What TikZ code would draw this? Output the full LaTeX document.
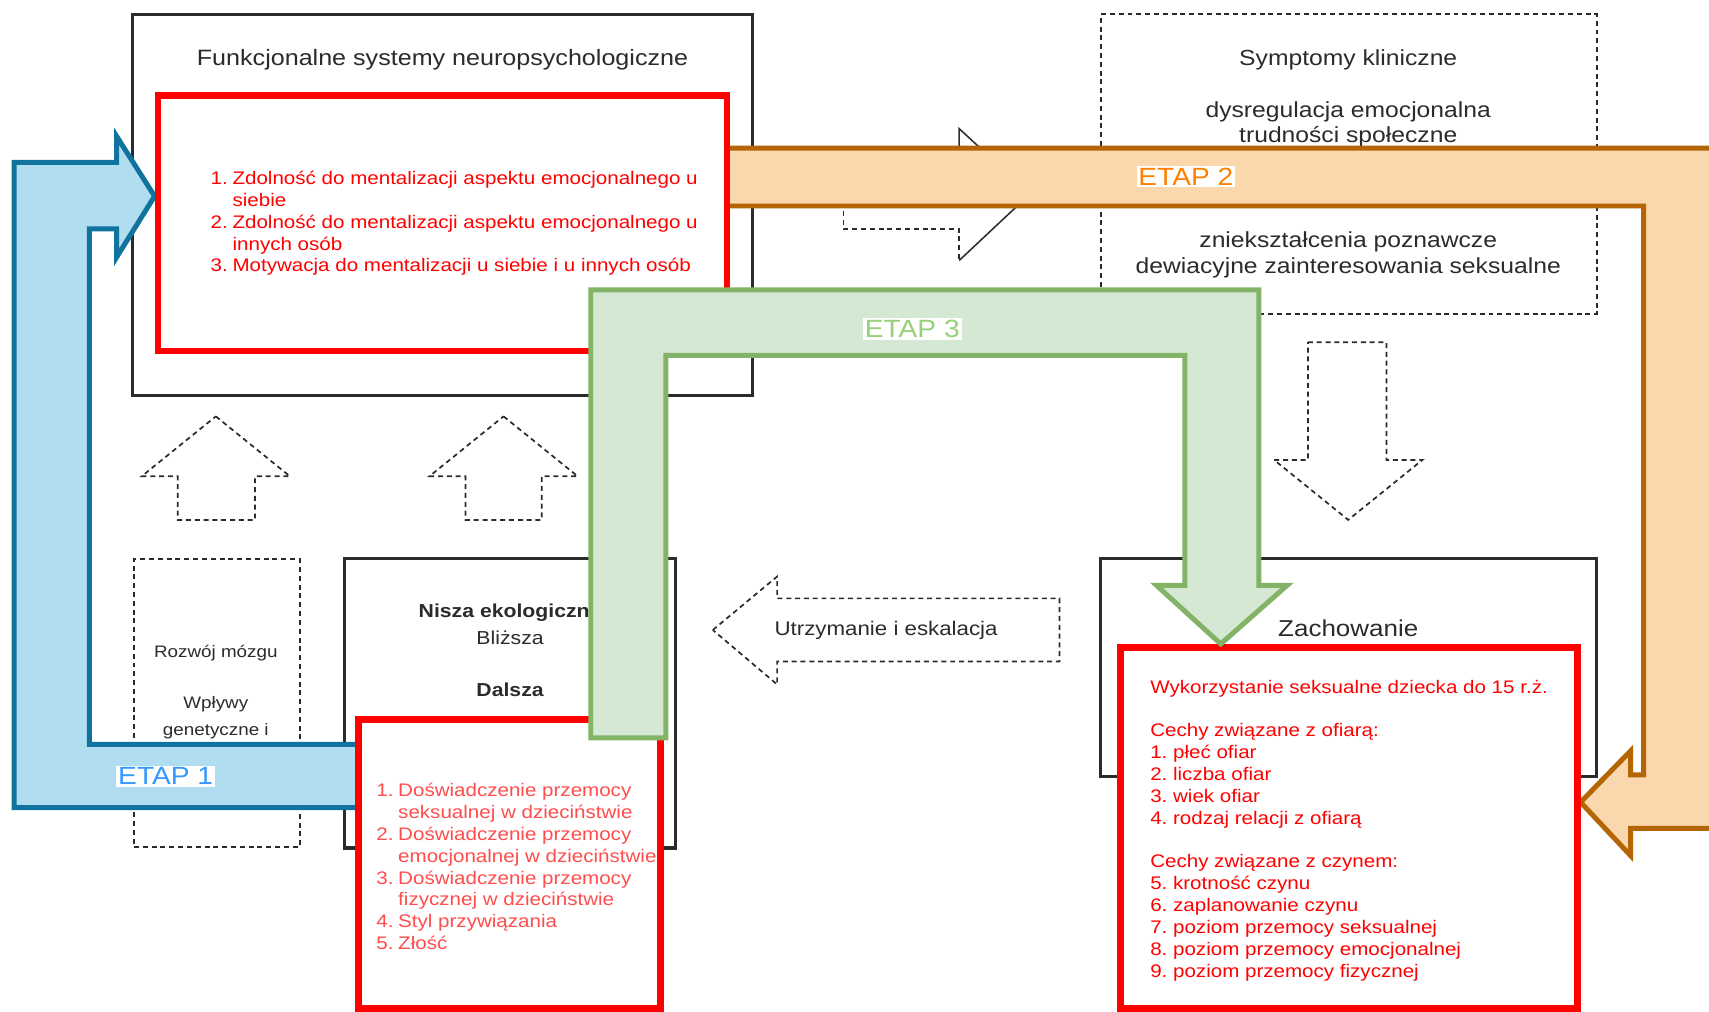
\documentclass[tikz,border=0pt]{standalone}
\usepackage{fontspec}
\setmainfont{Liberation Sans}[FakeStretch=1.13]
\usetikzlibrary{calc,positioning}
\definecolor{inkgray}{HTML}{2B2B2B}
\definecolor{listred}{HTML}{FF0000}
\definecolor{softred}{HTML}{FF4D4D}
\definecolor{bandblue}{HTML}{B1DDF0}
\definecolor{bandbluedraw}{HTML}{10739E}
\definecolor{bandorange}{HTML}{FAD7AC}
\definecolor{bandorangedraw}{HTML}{B46504}
\definecolor{bandgreen}{HTML}{D5E8D4}
\definecolor{bandgreendraw}{HTML}{82B366}
\definecolor{etapblue}{HTML}{3399FF}
\definecolor{etaporange}{HTML}{FF8000}
\definecolor{etapgreen}{HTML}{97D077}
\pgfdeclarelayer{boxes}
\pgfdeclarelayer{bands}
\pgfdeclarelayer{front}
\pgfsetlayers{boxes,bands,main,front}
\frenchspacing
\newcommand{\itemno}[1]{\makebox[11.4pt][l]{#1}}
\newcommand{\itemcont}{\hspace*{11.4pt}}
\tikzset{framebox/.style={
            draw=inkgray,
            line width=1.6pt,
            fill=white,
            inner sep=0pt
        },
        dashbox/.style={
            draw=inkgray,
            line width=0.9pt,
            dash pattern=on 2.6pt off 2pt,
            inner sep=0pt
        },
        redbox/.style={
            draw=listred,
            line width=3.6pt,
            fill=white,
            inner sep=0pt
        },
        dasharrow/.style={
            draw=inkgray,
            line width=0.9pt,
            dash pattern=on 2.6pt off 2pt
        },
        headline/.style={
            draw=inkgray,
            line width=0.8pt
        },
        band/.style={
            line width=2.6pt,
            line join=miter
        },
        txt/.style={
            text=inkgray,
            align=center,
            inner sep=0pt
        },
        redlist/.style={
            anchor=west,
            align=left,
            inner sep=0pt,
            font=\fontsize{9.5}{11.4}\selectfont
        },
        etaplabel/.style={
            fill=white,
            inner sep=1pt,
            font=\fontsize{13}{15}\selectfont
        }
    }
\begin{document}
\begin{tikzpicture}[x=0.2mm,y=-0.2mm]
        \useasboundingbox (0,0) rectangle (1568,928);
        \begin{pgfonlayer}{boxes}
            \node[framebox,minimum width=113.6mm,minimum height=70mm] at (406,188) (fns) {};
            \node[dashbox,minimum width=91mm,minimum height=55mm] at (1237.5,150.5) (sympt) {};
            \node[dashbox,minimum width=30.4mm,minimum height=52.8mm] at (199,645) (brain) {};
            \node[framebox,minimum width=60.8mm,minimum height=53.2mm] at (468,645) (niche) {};
            \node[framebox,minimum width=91mm,minimum height=40mm] at (1237.5,612) (behaviour) {};
            \node[txt,font=\fontsize{11.6}{14}\selectfont] at (406,55) (fnstitle) {Funkcjonalne systemy neuropsychologiczne};
            \node[txt,font=\fontsize{11.4}{14}\selectfont] at (1237,55) (symptitle) {Symptomy kliniczne};
            \node[txt,font=\fontsize{11.4}{13.1}\selectfont] at (1237,114.5) (symptA) {dysregulacja emocjonalna\\trudności społeczne};
            \node[txt,font=\fontsize{11.4}{13.6}\selectfont] at (1237,234) (symptB) {zniekształcenia poznawcze\\dewiacyjne zainteresowania seksualne};
            \node[txt,font=\fontsize{8.7}{14}\selectfont] at (198,599) (braintitle) {Rozwój mózgu};
            \node[txt,font=\fontsize{8.7}{14}\selectfont] at (198,658.5) (genes) {Wpływy\\genetyczne i};
            \node[txt,font=\bfseries\fontsize{9.8}{12}\selectfont] at (468,562) (nichetitle) {Nisza ekologiczna};
            \node[txt,font=\fontsize{9.8}{12}\selectfont] at (468,585) (near) {Bliższa};
            \node[txt,font=\bfseries\fontsize{9.8}{12}\selectfont] at (468,633) (far) {Dalsza};
            \node[txt,font=\fontsize{12}{14}\selectfont] at (1237,576) (behavtitle) {Zachowanie};
            \node[txt,font=\fontsize{10.3}{12}\selectfont] at (813,578) (escal) {Utrzymanie i eskalacja};
            \draw[dasharrow] (198,382) -- (266,437) -- (234,437) -- (234,477) -- (163,477) -- (163,437) -- (130,437) -- cycle;
            \draw[dasharrow] (462,382) -- (530,437) -- (497,437) -- (497,477) -- (427,477) -- (427,437) -- (394,437) -- cycle;
            \draw[dasharrow] (1200,314) -- (1272,314) -- (1272,422) -- (1305,422) -- (1237,477) -- (1169,422) -- (1200,422) -- cycle;
            \draw[dasharrow] (654,578) -- (713,529) -- (713,549) -- (972,549) -- (972,607) -- (713,607) -- (713,628) -- cycle;
            \draw[dasharrow] (880,146) -- (774,146) -- (774,210) -- (880,210) -- (880,239);
            \draw[headline] (880,239) -- (945,178) -- (880,118) -- (880,146);
        \end{pgfonlayer}
        \node[redbox,minimum width=104.4mm,minimum height=46.8mm] at (406,205) (mentbox) {};
        \node[redlist,text=listred] at (193,205) (mentlist) {\itemno{1.}Zdolność do mentalizacji aspektu emocjonalnego u\\
            \itemcont siebie\\
            \itemno{2.}Zdolność do mentalizacji aspektu emocjonalnego u\\
            \itemcont innych osób\\
            \itemno{3.}Motywacja do mentalizacji u siebie i u innych osób};
        \node[redbox,minimum width=55.4mm,minimum height=53mm] at (467.5,792.5) (factors) {};
        \node[redlist,text=softred] at (345,795) (factlist) {\itemno{1.}Doświadczenie przemocy\\
            \itemcont seksualnej w dzieciństwie\\
            \itemno{2.}Doświadczenie przemocy\\
            \itemcont emocjonalnej w dzieciństwie\\
            \itemno{3.}Doświadczenie przemocy\\
            \itemcont fizycznej w dzieciństwie\\
            \itemno{4.}Styl przywiązania\\
            \itemno{5.}Złość};
        \node[redbox,minimum width=83.8mm,minimum height=66.2mm] at (1237.5,759.5) (behav) {};
        \node[redlist,text=listred] at (1055,762) (behavlist) {Wykorzystanie seksualne dziecka do 15 r.ż.\\[11.4pt]
            Cechy związane z ofiarą:\\
            1. płeć ofiar\\
            2. liczba ofiar\\
            3. wiek ofiar\\
            4. rodzaj relacji z ofiarą\\[11.4pt]
            Cechy związane z czynem:\\
            5. krotność czynu\\
            6. zaplanowanie czynu\\
            7. poziom przemocy seksualnej\\
            8. poziom przemocy emocjonalnej\\
            9. poziom przemocy fizycznej};
        \begin{pgfonlayer}{bands}
            \draw[band,draw=bandbluedraw,fill=bandblue] (factors.center |- 0,683) -- (82,683) -- (82,210) -- (107,210) -- (107,236) -- (mentbox.west |- 0,180) -- (107,125) -- (107,149) -- (13,149) -- (13,741) -- (factors.center |- 0,741) -- cycle;
            \draw[band,draw=bandorangedraw,fill=bandorange] (mentbox.center |- 0,136) -- (1572,136) -- (1572,760) -- (1496,760) -- (1496,785) -- (behav.east |- 0,736) -- (1496,689) -- (1496,711) -- (1508,711) -- (1508,189) -- (mentbox.center |- 0,189) -- cycle;
        \end{pgfonlayer}
        \begin{pgfonlayer}{front}
            \draw[band,draw=bandgreendraw,fill=bandgreen] (542,677) -- (542,266) -- (1155,266) -- (1155,537) -- (1181,537) -- (behav.north -| 1120,0) -- (1061,537) -- (1087,537) -- (1087,326) -- (611,326) -- (611,677) -- cycle;
            \node[etaplabel,text=etapblue] at (152,712) (etap1) {ETAP 1};
            \node[etaplabel,text=etaporange] at (1088,162) (etap2) {ETAP 2};
            \node[etaplabel,text=etapgreen] at (837,302) (etap3) {ETAP 3};
        \end{pgfonlayer}
    \end{tikzpicture}
\end{document}
